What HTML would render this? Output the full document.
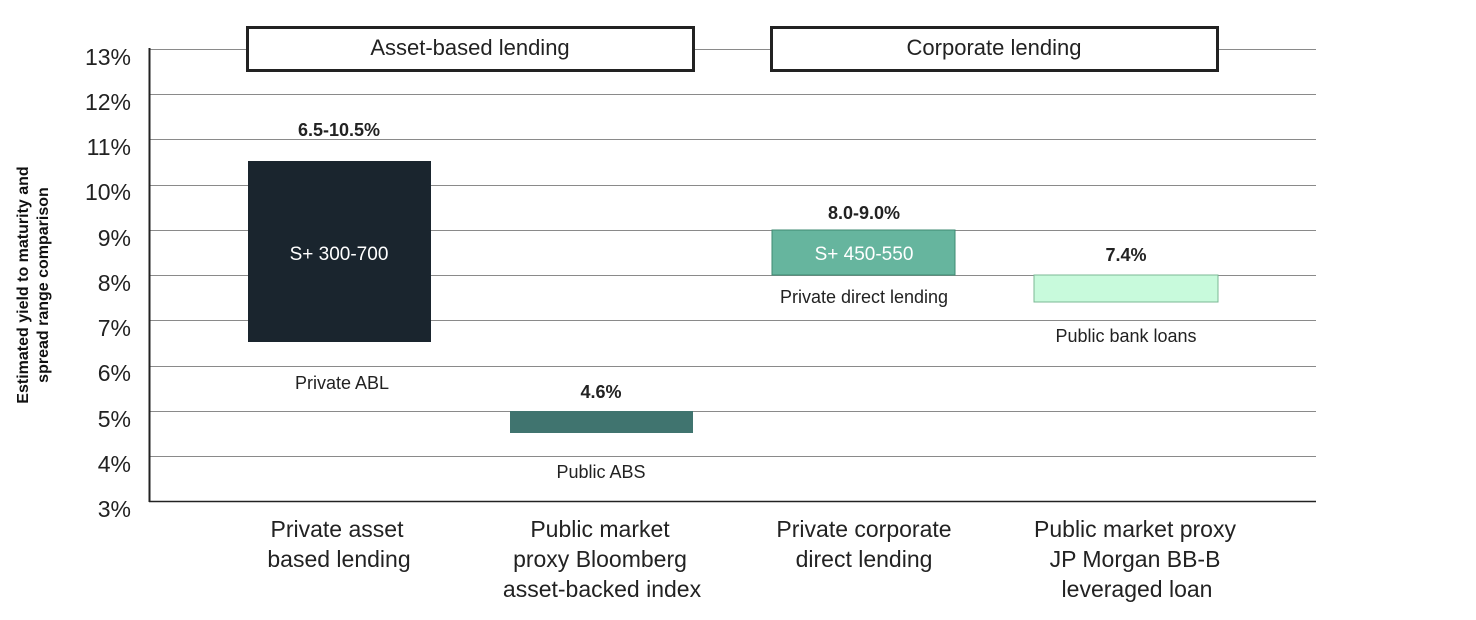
<!DOCTYPE html>
<html><head><meta charset="utf-8"><style>
body{margin:0;background:#fff;}
svg{display:block;font-family:"Liberation Sans",sans-serif;}
</style></head><body>
<svg width="1476" height="620" viewBox="0 0 1476 620">
<g stroke="#8a8a8a" stroke-width="1">
<line x1="149" y1="49.5" x2="1316" y2="49.5"/>
<line x1="149" y1="94.5" x2="1316" y2="94.5"/>
<line x1="149" y1="139.5" x2="1316" y2="139.5"/>
<line x1="149" y1="185.5" x2="1316" y2="185.5"/>
<line x1="149" y1="230.5" x2="1316" y2="230.5"/>
<line x1="149" y1="275.5" x2="1316" y2="275.5"/>
<line x1="149" y1="320.5" x2="1316" y2="320.5"/>
<line x1="149" y1="366.5" x2="1316" y2="366.5"/>
<line x1="149" y1="411.5" x2="1316" y2="411.5"/>
<line x1="149" y1="456.5" x2="1316" y2="456.5"/>
</g>
<line x1="149" y1="501.5" x2="1316" y2="501.5" stroke="#222" stroke-width="1.5"/>
<line x1="149.5" y1="48" x2="149.5" y2="502" stroke="#222" stroke-width="2"/>
<g font-size="23" fill="#222" text-anchor="end">
<text x="131" y="65">13%</text><text x="131" y="110">12%</text><text x="131" y="155">11%</text>
<text x="131" y="200">10%</text><text x="131" y="246">9%</text><text x="131" y="291">8%</text>
<text x="131" y="336">7%</text><text x="131" y="381">6%</text><text x="131" y="427">5%</text>
<text x="131" y="472">4%</text><text x="131" y="517">3%</text>
</g>
<text transform="translate(28,285) rotate(-90)" text-anchor="middle" font-size="16" font-weight="bold" fill="#111">Estimated yield to maturity and</text>
<text transform="translate(48,285) rotate(-90)" text-anchor="middle" font-size="16" font-weight="bold" fill="#111">spread range comparison</text>
<rect x="247.5" y="27.5" width="446" height="43" fill="#fff" stroke="#222" stroke-width="3"/>
<rect x="771.5" y="27.5" width="446" height="43" fill="#fff" stroke="#222" stroke-width="3"/>
<text x="470" y="55" text-anchor="middle" font-size="22" fill="#222">Asset-based lending</text>
<text x="994" y="55" text-anchor="middle" font-size="22" fill="#222">Corporate lending</text>
<rect x="248" y="161" width="183" height="181" fill="#1a252e"/>
<rect x="510" y="411" width="183" height="22" fill="#40746f"/>
<rect x="772" y="230" width="183" height="45" fill="#66b59e" stroke="#3e8a72" stroke-width="1"/>
<rect x="1034" y="275" width="184" height="27" fill="#c8fadc" stroke="#7bb895" stroke-width="1"/>
<g font-size="18" font-weight="bold" fill="#222" text-anchor="middle">
<text x="339" y="136">6.5-10.5%</text>
<text x="601" y="398">4.6%</text>
<text x="864" y="219">8.0-9.0%</text>
<text x="1126" y="261">7.4%</text>
</g>
<text x="339" y="260" font-size="19" fill="#fff" text-anchor="middle">S+ 300-700</text>
<text x="864" y="260" font-size="19" fill="#fff" text-anchor="middle">S+ 450-550</text>
<g font-size="18" fill="#222" text-anchor="middle">
<text x="342" y="389">Private ABL</text>
<text x="601" y="478">Public ABS</text>
<text x="864" y="303">Private direct lending</text>
<text x="1126" y="342">Public bank loans</text>
</g>
<g font-size="23" fill="#222" text-anchor="middle">
<text x="337" y="537">Private asset</text><text x="339" y="567">based lending</text>
<text x="600" y="537">Public market</text><text x="600" y="567">proxy Bloomberg</text><text x="602" y="597">asset-backed index</text>
<text x="864" y="537">Private corporate</text><text x="864" y="567">direct lending</text>
<text x="1135" y="537">Public market proxy</text><text x="1135" y="567">JP Morgan BB-B</text><text x="1137" y="597">leveraged loan</text>
</g>
</svg>
</body></html>
